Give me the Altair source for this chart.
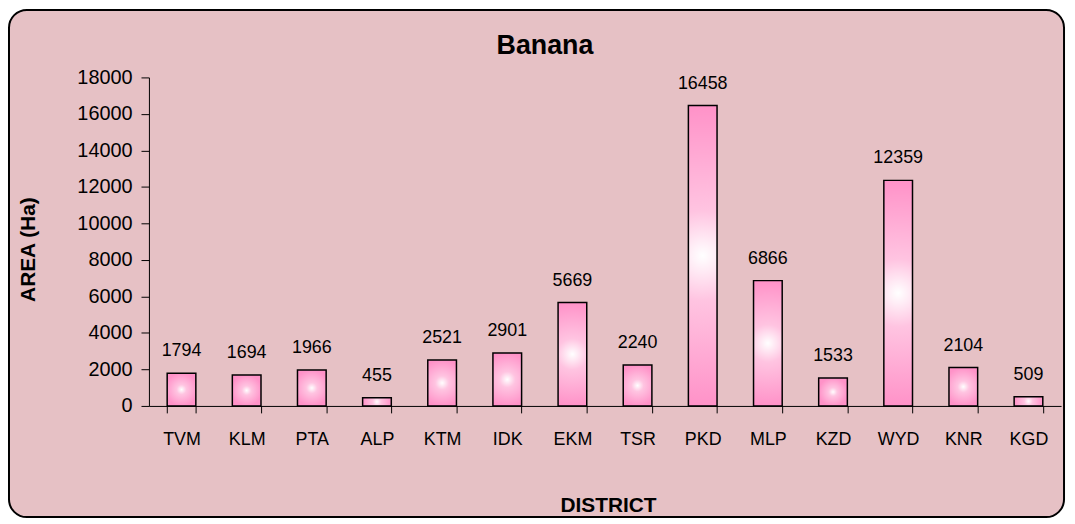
import altair as alt
import pandas as pd

districts = ["TVM", "KLM", "PTA", "ALP", "KTM", "IDK", "EKM", "TSR", "PKD", "MLP", "KZD", "WYD", "KNR", "KGD"]
area = [1794, 1694, 1966, 455, 2521, 2901, 5669, 2240, 16458, 6866, 1533, 12359, 2104, 509]
y_ticks = [0, 2000, 4000, 6000, 8000, 10000, 12000, 14000, 16000, 18000]
chart_title = "Banana"

df = pd.DataFrame({"district": districts, "area": area})
one = pd.DataFrame({"k": [0]})

FONT = "Liberation Sans"
W, H = 919, 331
BG = "#e6c1c5"

frame = alt.Chart(one).mark_rect(
    fill=BG, stroke="#000000", strokeWidth=2, cornerRadius=18
).encode(
    x=alt.value(-141), x2=alt.value(922), y=alt.value(-68), y2=alt.value(443)
)

title_mark = alt.Chart(one).mark_text(
    text=chart_title, fontSize=27, fontWeight="bold", font=FONT,
    color="#000000", baseline="alphabetic", align="center"
).encode(x=alt.value(399), y=alt.value(-24))

x_enc = alt.X(
    "district:N", sort=districts,
    scale=alt.Scale(paddingInner=0.56, paddingOuter=0.28),
    axis=alt.Axis(
        title="DISTRICT", labelAngle=0, tickBand="extent", tickSize=7,
        labelFontSize=18, labelBaseline="alphabetic", labelPadding=32,
        titleFontSize=21, titleFontWeight="bold", titleY=106,
        titleBaseline="alphabetic", titleX=W / 2 + 3, zindex=1,
    ),
)
y_enc = alt.Y(
    "area:Q",
    scale=alt.Scale(domain=[0, 18000], nice=False),
    axis=alt.Axis(
        title="AREA (Ha)", values=y_ticks, grid=False, tickSize=8,
        format="d", labelOverlap=False, labelFontSize=20, labelPadding=9,
        titleFontSize=21, titleFontWeight="bold", titleAngle=270,
        titleX=-121, titleY=173, titleBaseline="middle", titleAlign="center",
        zindex=1,
    ),
)

bars = alt.Chart(df).mark_bar(
    stroke="#000000", strokeWidth=1.5,
    color=alt.Gradient(
        gradient="radial", x1=0.5, y1=0.5, r1=0, x2=0.5, y2=0.5, r2=0.5,
        stops=[alt.GradientStop(color="#ffffff", offset=0),
               alt.GradientStop(color="#ffc4e1", offset=0.3),
               alt.GradientStop(color="#ff92c8", offset=1)],
    ),
).encode(x=x_enc, y=y_enc)

labels = alt.Chart(df).mark_text(
    baseline="alphabetic", dy=-17, fontSize=18, font=FONT, color="#000000"
).encode(x=x_enc, y=y_enc, text="area:Q")

chart = alt.layer(frame, title_mark, bars, labels).properties(
    width=W, height=H,
    padding={"left": 142, "top": 68, "right": 6, "bottom": 115},
    autosize=alt.AutoSizeParams(type="none"),
    background="#ffffff",
).configure_view(stroke=None).configure_axis(
    labelFont=FONT, titleFont=FONT, labelColor="#000000", titleColor="#000000",
    domainColor="#000000", tickColor="#000000", domainWidth=1, tickWidth=1,
)

chart.save("out.html", embed_options={"renderer": "svg", "actions": False})
